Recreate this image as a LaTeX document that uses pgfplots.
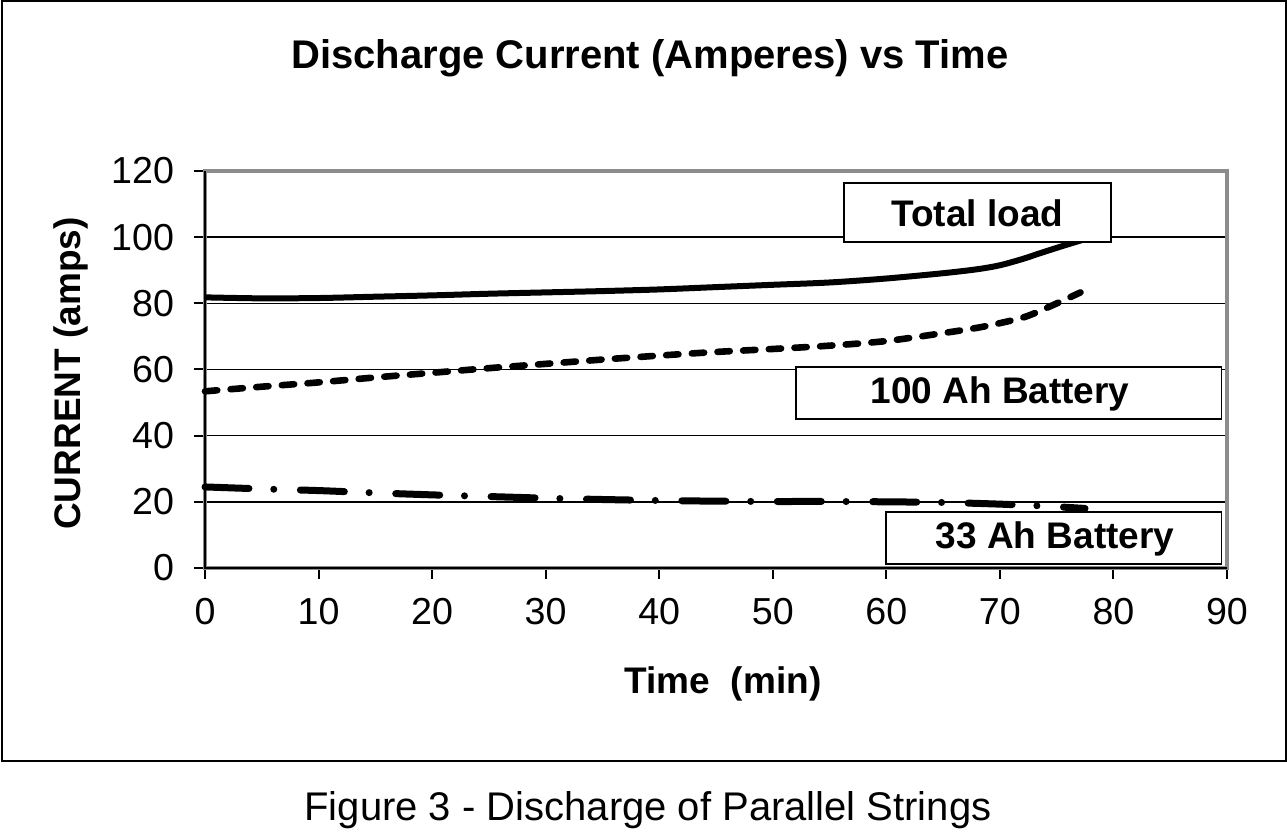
\documentclass[border=0pt]{standalone}
\usepackage{fontspec}
\setmainfont{Liberation Sans}
\usepackage{pgfplots}
\pgfplotsset{compat=1.18}
\begin{document}
\begin{tikzpicture}
\useasboundingbox (0,0) rectangle (643.5pt,419.5pt);
\begin{scope}[x=0.5pt,y=-0.5pt,shift={(0pt,419.5pt)}]
 \draw[line width=1pt] (1.5,1.5) rectangle (1285.5,761.5);
 \node[font=\fontsize{20}{24}\selectfont\bfseries] at (650,58) {Discharge Current (Amperes) vs Time};
 \node[font=\fontsize{20}{24}\selectfont] at (648,810) {Figure 3 - Discharge of Parallel Strings};
 \node[font=\fontsize{18.5}{22}\selectfont\bfseries, rotate=90] at (70.5,373.5) {CURRENT (amps)};
 \node[font=\fontsize{18.5}{22}\selectfont\bfseries] at (723,684) {Time\ \ (min)};
\end{scope}
\begin{axis}[
  at={(102.5pt,135.5pt)}, anchor=south west,
  scale only axis, width=511pt, height=198.5pt,
  xmin=0, xmax=90, ymin=0, ymax=120,
  xtick={0,10,...,90}, ytick={0,20,...,120},
  tick align=outside, tick pos=left,
  major tick length=5.5pt,
  tick style={black, line width=1pt},
  ymajorgrids,
  major grid style={black, line width=0.7pt},
  axis line style={draw=none},
  clip=false,
  /pgf/number format/assume math mode=true,
  ticklabel style={font=\fontsize{18.8}{22}\selectfont},
  xticklabel style={yshift=-6pt},
  yticklabel style={xshift=-6.5pt},
]
\draw[color=black!45, line width=1.6pt] (rel axis cs:0,0) rectangle (rel axis cs:1,1);
\draw[black, line width=1.1pt] (rel axis cs:0,1) -- (rel axis cs:0,0) -- (rel axis cs:1,0);
% Total load
\addplot[black, line width=3pt, smooth] coordinates {
 (0,81.8) (5,81.5) (10,81.6) (15,82.0) (20,82.4) (25,82.9) (30,83.3) (35,83.7)
 (40,84.2) (45,84.9) (50,85.6) (55,86.3) (60,87.5) (65,89.1) (68,90.3) (70,91.5)
 (72,93.4) (73.5,95.1) (75.5,97.3) (77.5,99.4)
};
% 100 Ah battery
\addplot[black, line width=3.3pt, smooth, line cap=round, dash pattern=on 6.15pt off 6.7pt] coordinates {
 (0,53.4) (5,54.8) (10,56.1) (15,57.6) (20,59.0) (25,60.4) (30,61.7) (35,63.0)
 (40,64.2) (45,65.3) (50,66.2) (55,67.2) (60,68.6) (65,71.0) (68,72.6) (70,74.0)
 (72.3,76.0) (74.7,79.5) (77.1,83.3)
};
% 33 Ah battery
\addplot[black, line width=3.5pt, smooth, line cap=round, dash pattern=on 22pt off 12.4pt on 0.01pt off 13.3pt] coordinates {
 (0,24.5) (5,23.9) (10,23.4) (15,22.7) (20,22.1) (25,21.6) (30,21.1) (35,20.7)
 (40,20.4) (45,20.2) (50,20.1) (55,20.1) (60,20.0) (65,19.8) (70,19.3) (74,18.7) (77.5,18.0)
};
\end{axis}
\begin{scope}[x=0.5pt,y=-0.5pt,shift={(0pt,419.5pt)}]
 \draw[fill=white, line width=0.75pt] (844,183) rectangle (1111,242);
 \node[font=\fontsize{18.5}{22}\selectfont\bfseries] at (977.5,213) {Total load};
 \draw[fill=white, line width=0.75pt] (796,367) rectangle (1221.5,419);
 \node[font=\fontsize{18.5}{22}\selectfont\bfseries] at (1000,394) {100 Ah Battery};
 \draw[fill=white, line width=0.75pt] (886,512) rectangle (1221.5,564);
 \node[font=\fontsize{18.5}{22}\selectfont\bfseries] at (1055,539) {33 Ah Battery};
\end{scope}
\end{tikzpicture}
\end{document}
